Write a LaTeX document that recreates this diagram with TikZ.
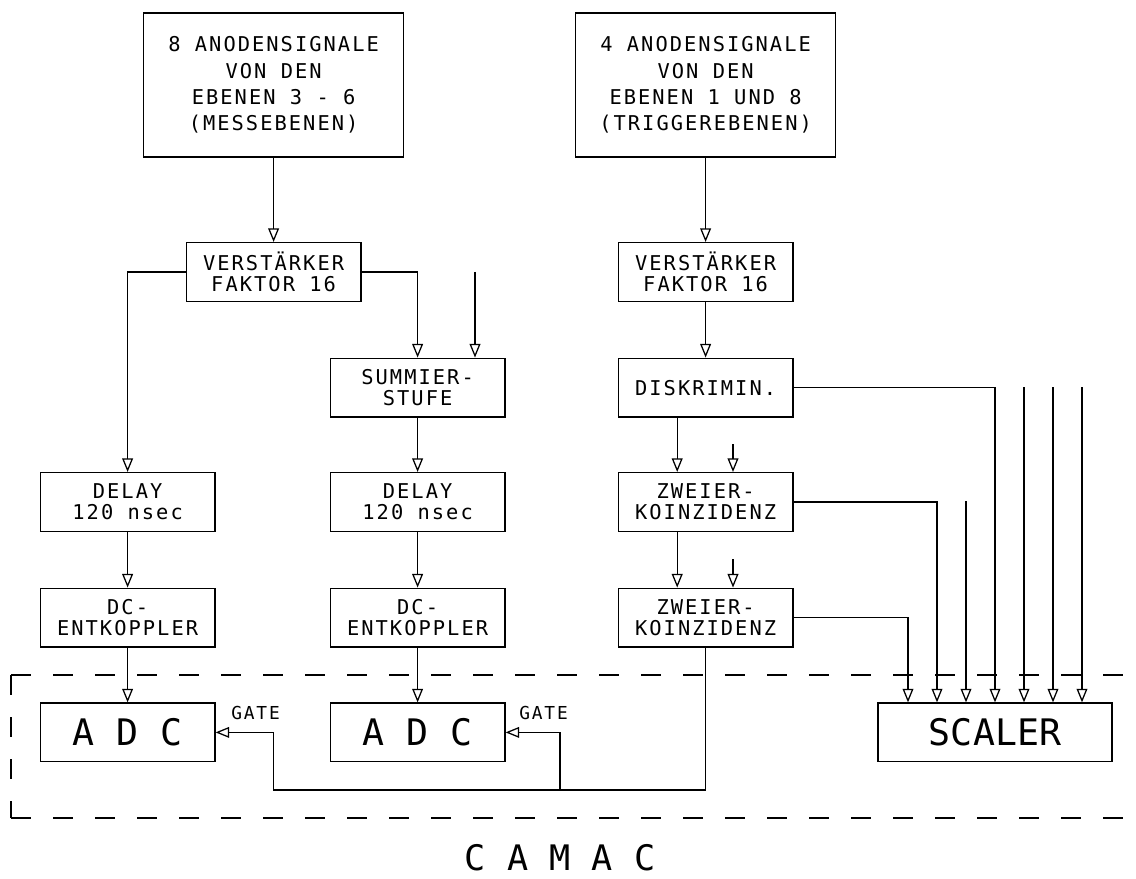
\documentclass[tikz,border=0pt]{standalone}
\usepackage{fontspec}
\newfontfamily\plotfont[LetterSpace=10]{DejaVu Sans Mono}
\newfontfamily\plotbig{DejaVu Sans Mono}
\usepackage{tikz}
\usetikzlibrary{arrows.meta}

\begin{document}
\begin{tikzpicture}[
  line width=0.9pt,
  blk/.style={draw, align=center, inner sep=0pt, minimum width=4.37cm,
              minimum height=1.47cm, font=\plotfont\fontsize{14.5}{15}\selectfont},
  src/.style={blk, minimum width=6.5cm, minimum height=3.6cm,
              font=\plotfont\fontsize{14.5}{18.7}\selectfont},
  bigblk/.style={blk, font=\plotbig\fontsize{26}{30}\selectfont},
  gate/.style={inner sep=0pt, font=\plotfont\fontsize{12.7}{14}\selectfont},
  arr/.style={-{Triangle[open, length=3.4mm, width=2.7mm]}},
  camac/.style={dash pattern=on 5mm off 5.5mm}
]
\useasboundingbox (0,0) rectangle (28.4,-21.975);

% left part: Messebenen
\node[src]    (anodl)   at (6.84,  -2.125) {8 ANODENSIGNALE\\VON DEN\\EBENEN 3 - 6\\(MESSEBENEN)};
\node[blk]    (verst1)  at (6.84,  -6.8)   {VERSTÄRKER\\FAKTOR 16};
\node[blk]    (summier) at (10.44, -9.69)  {SUMMIER-\\STUFE};
\node[blk]    (delay1)  at (3.19,  -12.55) {DELAY\\120 nsec};
\node[blk]    (delay2)  at (10.44, -12.55) {DELAY\\120 nsec};
\node[blk]    (dc1)     at (3.19,  -15.44) {DC-\\ENTKOPPLER};
\node[blk]    (dc2)     at (10.44, -15.44) {DC-\\ENTKOPPLER};
\node[bigblk] (adc1)    at (3.19,  -18.31) {A D C};
\node[bigblk] (adc2)    at (10.44, -18.31) {A D C};

% right part: Triggerebenen
\node[src]    (anodr)   at (17.64, -2.125) {4 ANODENSIGNALE\\VON DEN\\EBENEN 1 UND 8\\(TRIGGEREBENEN)};
\node[blk]    (verst2)  at (17.64, -6.8)   {VERSTÄRKER\\FAKTOR 16};
\node[blk]    (diskr)   at (17.64, -9.69)  {DISKRIMIN.};
\node[blk]    (zk1)     at (17.64, -12.55) {ZWEIER-\\KOINZIDENZ};
\node[blk]    (zk2)     at (17.64, -15.44) {ZWEIER-\\KOINZIDENZ};
\node[bigblk, minimum width=5.85cm] (scaler) at (24.875, -18.31) {SCALER};

\node[gate] (gate1) at (6.39,  -17.83) {GATE};
\node[gate] (gate2) at (13.59, -17.83) {GATE};
\node[inner sep=0pt, font=\plotbig\fontsize{25}{28}\selectfont] (camaclbl) at (14.0, -21.45) {C A M A C};

% free inputs
\coordinate (sumin) at (11.875, -6.8);
\coordinate (kin1)  at (18.325, -11.1);
\coordinate (kin2)  at (18.325, -13.975);
\coordinate (scin1) at (24.15,  -12.525);
\coordinate (scin2) at (25.6,   -9.675);
\coordinate (scin3) at (26.325, -9.675);
\coordinate (scin4) at (27.05,  -9.675);
\coordinate (gbus)  at (6.84,  -19.75);
\coordinate (gtap)  at (14.0,  -19.75);

% left chain
\draw[arr] (anodl)        -- (verst1);
\draw[arr] (verst1.west)  -| (delay1.north);
\draw[arr] (verst1.east)  -| (summier.north);
\draw[arr] (sumin)        -- (sumin |- summier.north);
\draw[arr] (summier)      -- (delay2);
\draw[arr] (delay1)       -- (dc1);
\draw[arr] (delay2)       -- (dc2);
\draw[arr] (dc1)          -- (adc1);
\draw[arr] (dc2)          -- (adc2);

% right chain
\draw[arr] (anodr)        -- (verst2);
\draw[arr] (verst2)       -- (diskr);
\draw[arr] ([xshift=-7.1mm]diskr.south) -- ([xshift=-7.1mm]zk1.north);
\draw[arr] ([xshift=-7.1mm]zk1.south)   -- ([xshift=-7.1mm]zk2.north);
\draw[arr] (kin1) -- (kin1 |- zk1.north);
\draw[arr] (kin2) -- (kin2 |- zk2.north);

% into the scaler
\draw[arr] (diskr.east) -| (scaler.north);
\draw[arr] (zk1.east)   -| ([xshift=-14.5mm]scaler.north);
\draw[arr] (zk2.east)   -| ([xshift=-21.75mm]scaler.north);
\draw[arr] (scin1) -- (scin1 |- scaler.north);
\draw[arr] (scin2) -- (scin2 |- scaler.north);
\draw[arr] (scin3) -- (scin3 |- scaler.north);
\draw[arr] (scin4) -- (scin4 |- scaler.north);

% gate
\draw[arr] (zk2.south) |- (gbus) |- (adc1.east);
\draw[arr] (gtap) |- (adc2.east);

% CAMAC crate
\draw[camac] (0.275,-16.875) -- (28.4,-16.875);
\draw[camac] (0.275,-16.875) -- (0.275,-20.45);
\draw[camac] (0.275,-20.45)  -- (28.4,-20.45);
\end{tikzpicture}
\end{document}
